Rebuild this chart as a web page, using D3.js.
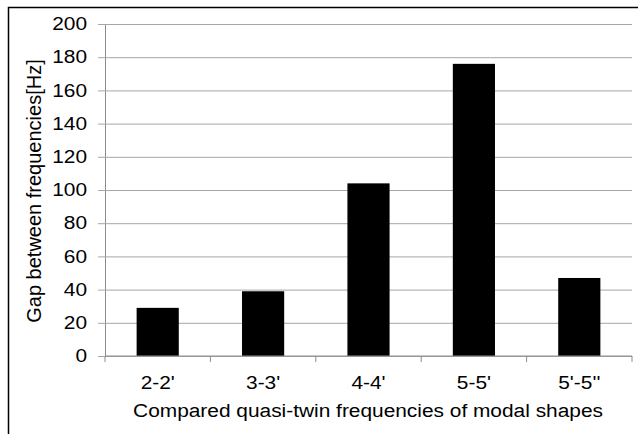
<!DOCTYPE html>
<html>
<head>
<meta charset="utf-8">
<script src="https://cdn.jsdelivr.net/npm/d3@7"></script>
<style>
  body { margin: 0; background: #fff; }
  text { font-family: "Liberation Sans", Arial, sans-serif; fill: #000; }
</style>
</head>
<body>
<script>
const categories = ["2-2'", "3-3'", "4-4'", "5-5'", "5'-5''"]
const gaps = [29, 39, 104, 176, 47]
const yTicks = [0, 20, 40, 60, 80, 100, 120, 140, 160, 180, 200]

const width = 638
const height = 434
const margin = { top: 24, right: 6, bottom: 78, left: 105 }
const sx = 1.16 // the reference glyphs are stretched sideways

const svg = d3.select('body').append('svg')
  .attr('width', width)
  .attr('height', height)

// outer frame
svg.append('rect')
  .attr('x', 8.5).attr('y', 7.5)
  .attr('width', width + 10).attr('height', height + 10)
  .attr('fill', 'none').attr('stroke', '#000').attr('stroke-width', 1.5)

const x = d3.scaleBand()
  .domain(categories)
  .range([margin.left, width - margin.right])
  .paddingInner(0.6).paddingOuter(0.3)

const y = d3.scaleLinear()
  .domain([0, 200])
  .range([height - margin.bottom, margin.top])

// gridlines + y ticks
svg.append('g')
  .attr('transform', 'translate(' + margin.left + ',0)')
  .call(d3.axisLeft(y).tickValues(yTicks)
    .tickSize(-(width - margin.left - margin.right)).tickSizeOuter(0).tickPadding(10))
  .call(g => g.select('.domain').attr('stroke', '#8c8c8c'))
  .call(g => g.selectAll('.tick line').attr('stroke', '#a6a6a6')
    .attr('x1', -7))
  .call(g => g.selectAll('.tick text')
    .style('font-size', '18px')
    .attr('transform', 'scale(' + sx + ',1)')
    .attr('x', -18 / sx))

// bars
svg.append('g')
  .selectAll('rect')
  .data(gaps)
  .enter().append('rect')
  .attr('x', (d, i) => x(categories[i]))
  .attr('width', x.bandwidth())
  .attr('y', d => y(d))
  .attr('height', d => y(0) - y(d))
  .attr('fill', '#000')

// x axis
const step = x.step()
const xAxis = svg.append('g')
  .attr('transform', 'translate(0,' + y(0) + ')')
xAxis.append('line')
  .attr('x1', margin.left).attr('x2', width - margin.right)
  .attr('stroke', '#8c8c8c')
xAxis.selectAll('line.tk')
  .data(d3.range(categories.length + 1))
  .enter().append('line')
  .attr('class', 'tk')
  .attr('x1', i => margin.left + i * step).attr('x2', i => margin.left + i * step)
  .attr('y1', 0).attr('y2', 6)
  .attr('stroke', '#8c8c8c')
xAxis.selectAll('text')
  .data(categories)
  .enter().append('text')
  .attr('transform', d => 'translate(' + (x(d) + x.bandwidth() / 2) + ',33) scale(' + sx + ',1)')
  .attr('text-anchor', 'middle')
  .style('font-size', '18px')
  .text(d => d)

// axis titles
svg.append('text')
  .attr('transform', 'translate(368,417) scale(' + sx + ',1)')
  .attr('text-anchor', 'middle')
  .style('font-size', '18px')
  .text('Compared quasi-twin frequencies of modal shapes')

svg.append('text')
  .attr('transform', 'translate(41,' + (y(100) + 1) + ') rotate(-90)')
  .attr('text-anchor', 'middle')
  .style('font-size', '20px')
  .text('Gap between frequencies[Hz]')
</script>
</body>
</html>
